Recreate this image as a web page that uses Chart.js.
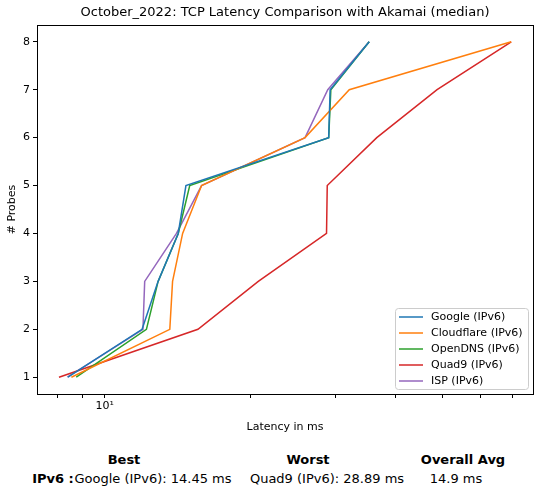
<!DOCTYPE html>
<html>
<head>
<meta charset="utf-8">
<script src="https://cdn.jsdelivr.net/npm/chart.js@4"></script>
<style>
  body { margin: 0; background: #fff; font-family: "DejaVu Sans", sans-serif; }
  #wrap { position: relative; width: 541px; height: 496px; }
  .t { position: absolute; font-size: 13px; color: #000; white-space: nowrap; transform: translateX(-50%); }
  .b { font-weight: bold; }
</style>
</head>
<body>
<div id="wrap">
  <canvas id="c" width="541" height="440" style="width:541px;height:440px"></canvas>
  <div class="t b" style="left:124px;top:452px">Best</div>
  <div class="t b" style="left:308px;top:452px">Worst</div>
  <div class="t b" style="left:463px;top:452px">Overall Avg</div>
  <div class="t b" style="left:53px;top:471px">IPv6 :</div>
  <div class="t" style="left:153px;top:471px">Google (IPv6): 14.45 ms</div>
  <div class="t" style="left:327px;top:471px">Quad9 (IPv6): 28.89 ms</div>
  <div class="t" style="left:456px;top:471px">14.9 ms</div>
</div>
<script>
// ===== Data =====
const probes = [1, 2, 3, 4, 5, 6, 7, 8];
const google = [8.39, 11.95, 12.9, 14.2, 14.73, 29.1, 29.3, 35.3];
const cloudflare = [8.53, 13.64, 13.82, 14.5, 15.87, 26.0, 32.1, 69.5];
const opendns = [8.73, 12.2, 12.9, 14.2, 15.0, 29.1, 29.4, 35.3];
const quad9 = [8.04, 15.6, 20.8, 28.8, 28.9, 36.6, 48.8, 69.5];
const isp = [8.37, 12.0, 12.1, 14.08, 15.87, 26.0, 28.97, 35.3];
const xTicks = [8, 9, 10, 20, 30, 40, 50, 60, 70];
const yTicks = [1, 2, 3, 4, 5, 6, 7, 8];

const series = [
    ["Google (IPv6)", google, "#1f77b4"],
    ["Cloudflare (IPv6)", cloudflare, "#ff7f0e"],
    ["OpenDNS (IPv6)", opendns, "#2ca02c"],
    ["Quad9 (IPv6)", quad9, "#d62728"],
    ["ISP (IPv6)", isp, "#9467bd"]
];

const datasets = series.map(s => ({
    label: s[0],
    data: s[1].map((v, i) => ({ x: v, y: probes[i] })),
    borderColor: s[2],
    backgroundColor: s[2],
    borderWidth: 1.5,
    pointRadius: 0,
    tension: 0
}));

// frame, title, axis titles and legend drawn like matplotlib
const decor = {
    id: "decor",
    afterDraw(chart) {
        const ctx = chart.ctx, a = chart.chartArea;
        ctx.save();
        ctx.strokeStyle = "#000";
        ctx.lineWidth = 1;
        ctx.strokeRect(a.left + 0.5, a.top + 0.5, a.right - a.left, a.bottom - a.top);
        ctx.fillStyle = "#000";
        ctx.textAlign = "center";
        ctx.textBaseline = "middle";
        ctx.font = "13px 'DejaVu Sans'";
        ctx.fillText("October_2022: TCP Latency Comparison with Akamai (median)", (a.left + a.right) / 2, 13);
        ctx.font = "11px 'DejaVu Sans'";
        ctx.fillText("Latency in ms", (a.left + a.right) / 2, 427);
        ctx.save();
        ctx.translate(12, (a.top + a.bottom) / 2);
        ctx.rotate(-Math.PI / 2);
        ctx.fillText("# Probes", 0, 0);
        ctx.restore();
        // legend
        const lx = 395, ly = 308, lw = 133, lh = 81;
        ctx.fillStyle = "rgba(255,255,255,0.8)";
        ctx.strokeStyle = "#ccc";
        ctx.beginPath();
        ctx.roundRect(lx + 0.5, ly + 0.5, lw, lh, 3);
        ctx.fill();
        ctx.stroke();
        ctx.textAlign = "left";
        series.forEach((s, i) => {
            const y = ly + 9 + i * 16;
            ctx.strokeStyle = s[2];
            ctx.lineWidth = 1.5;
            ctx.beginPath();
            ctx.moveTo(lx + 4, y);
            ctx.lineTo(lx + 28, y);
            ctx.stroke();
            ctx.fillStyle = "#000";
            ctx.fillText(s[0], lx + 36, y);
        });
        ctx.restore();
    }
};

new Chart(document.getElementById("c"), {
    type: "line",
    data: { datasets: datasets },
    options: {
        responsive: false,
        animation: false,
        layout: { padding: { top: 25, right: 8, left: 0, bottom: 0 } },
        plugins: { legend: { display: false }, title: { display: false }, tooltip: { enabled: false } },
        scales: {
            x: {
                type: "logarithmic",
                min: 7.24,
                max: 77.1,
                afterFit: s => { s.height = 46; },
                afterBuildTicks: s => { s.ticks = xTicks.map(v => ({ value: v })); },
                ticks: {
                    color: "#000",
                    font: { family: "DejaVu Sans", size: 11 },
                    autoSkip: false,
                    maxRotation: 0,
                    padding: 2,
                    callback: v => v === 10 ? "10¹" : ""
                },
                grid: { drawOnChartArea: false, drawTicks: true, tickLength: 4, color: "#000" },
                border: { display: false }
            },
            y: {
                type: "linear",
                min: 0.65,
                max: 8.35,
                afterFit: s => { s.width = 37; },
                afterBuildTicks: s => { s.ticks = yTicks.map(v => ({ value: v })); },
                ticks: {
                    color: "#000",
                    font: { family: "DejaVu Sans", size: 11 },
                    padding: 3
                },
                grid: { drawOnChartArea: false, drawTicks: true, tickLength: 4, color: "#000" },
                border: { display: false }
            }
        }
    },
    plugins: [decor]
});
</script>
</body>
</html>
